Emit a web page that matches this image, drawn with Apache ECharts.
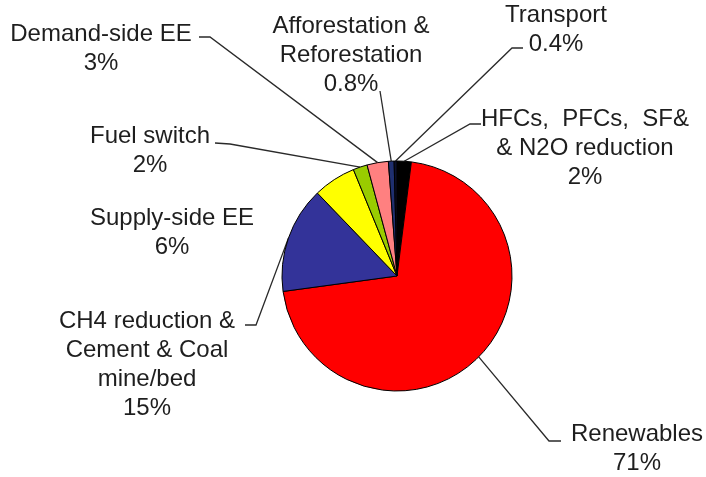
<!DOCTYPE html>
<html>
<head>
<meta charset="utf-8">
<script src="https://cdn.jsdelivr.net/npm/echarts@6/dist/echarts.min.js"></script>
<style>
  html, body { margin: 0; padding: 0; background: #fff; }
  #chart { width: 706px; height: 477px; }
</style>
</head>
<body>
<div id="chart"></div>
<script>
// Data (clockwise from 12 o'clock)
const categories = [
  'HFCs,  PFCs,  SF&\n& N2O reduction',
  'Renewables',
  'CH4 reduction &\nCement & Coal\nmine/bed',
  'Supply-side EE',
  'Fuel switch',
  'Demand-side EE',
  'Afforestation &\nReforestation',
  'Transport'
];
const shares = [2, 71, 15, 6, 2, 3, 0.8, 0.4];
const colors = ['#000000', '#FF0000', '#333399', '#FFFF00', '#99CC00', '#FF8080', '#1F2F6F', '#0A0F2A'];

// Label layout (text block centre, leader elbow, leader end); null = no leader
const labelPos = [
  { x: 585, y: 148, elbow: [470, 124], end: [481, 124] },
  { x: 637, y: 449, elbow: [549, 441], end: [561, 441] },
  { x: 147, y: 365, elbow: [256, 325], end: [245, 325] },
  { x: 172, y: 233, elbow: null, end: null },
  { x: 150, y: 151, elbow: [230, 144], end: [215, 143] },
  { x: 101, y: 49, elbow: [210, 37], end: [199, 37] },
  { x: 351, y: 55, elbow: [380, 91], end: [380, 91] },
  { x: 556, y: 30, elbow: [512, 48], end: [523, 48] }
];

const chart = echarts.init(document.getElementById('chart'), null, { renderer: 'canvas' });

const data = categories.map((name, i) => ({
  name: name,
  value: shares[i],
  itemStyle: { color: colors[i] },
  labelLine: { show: labelPos[i].elbow !== null }
}));

chart.setOption({
  backgroundColor: '#ffffff',
  animation: false,
  series: [{
    type: 'pie',
    center: [397, 276],
    radius: 115,
    startAngle: 90,
    clockwise: true,
    avoidLabelOverlap: false,
    data: data,
    itemStyle: { borderColor: '#000', borderWidth: 1 },
    label: {
      show: true,
      position: 'outside',
      formatter: '{b}\n{c}%',
      fontFamily: 'Liberation Sans, Arial, sans-serif',
      fontSize: 24,
      lineHeight: 29,
      color: '#1e1e1e',
      align: 'center'
    },
    labelLine: {
      show: true,
      length: 10,
      length2: 10,
      lineStyle: { color: '#2a2a2a', width: 1.3 }
    },
    emphasis: { disabled: true },
    labelLayout: function (params) {
      const p = labelPos[params.dataIndex];
      const out = { x: p.x, y: p.y, align: 'center', verticalAlign: 'middle' };
      if (p.elbow && params.labelLinePoints) {
        out.labelLinePoints = [params.labelLinePoints[0], p.elbow, p.end];
      }
      return out;
    }
  }]
});
</script>
</body>
</html>
